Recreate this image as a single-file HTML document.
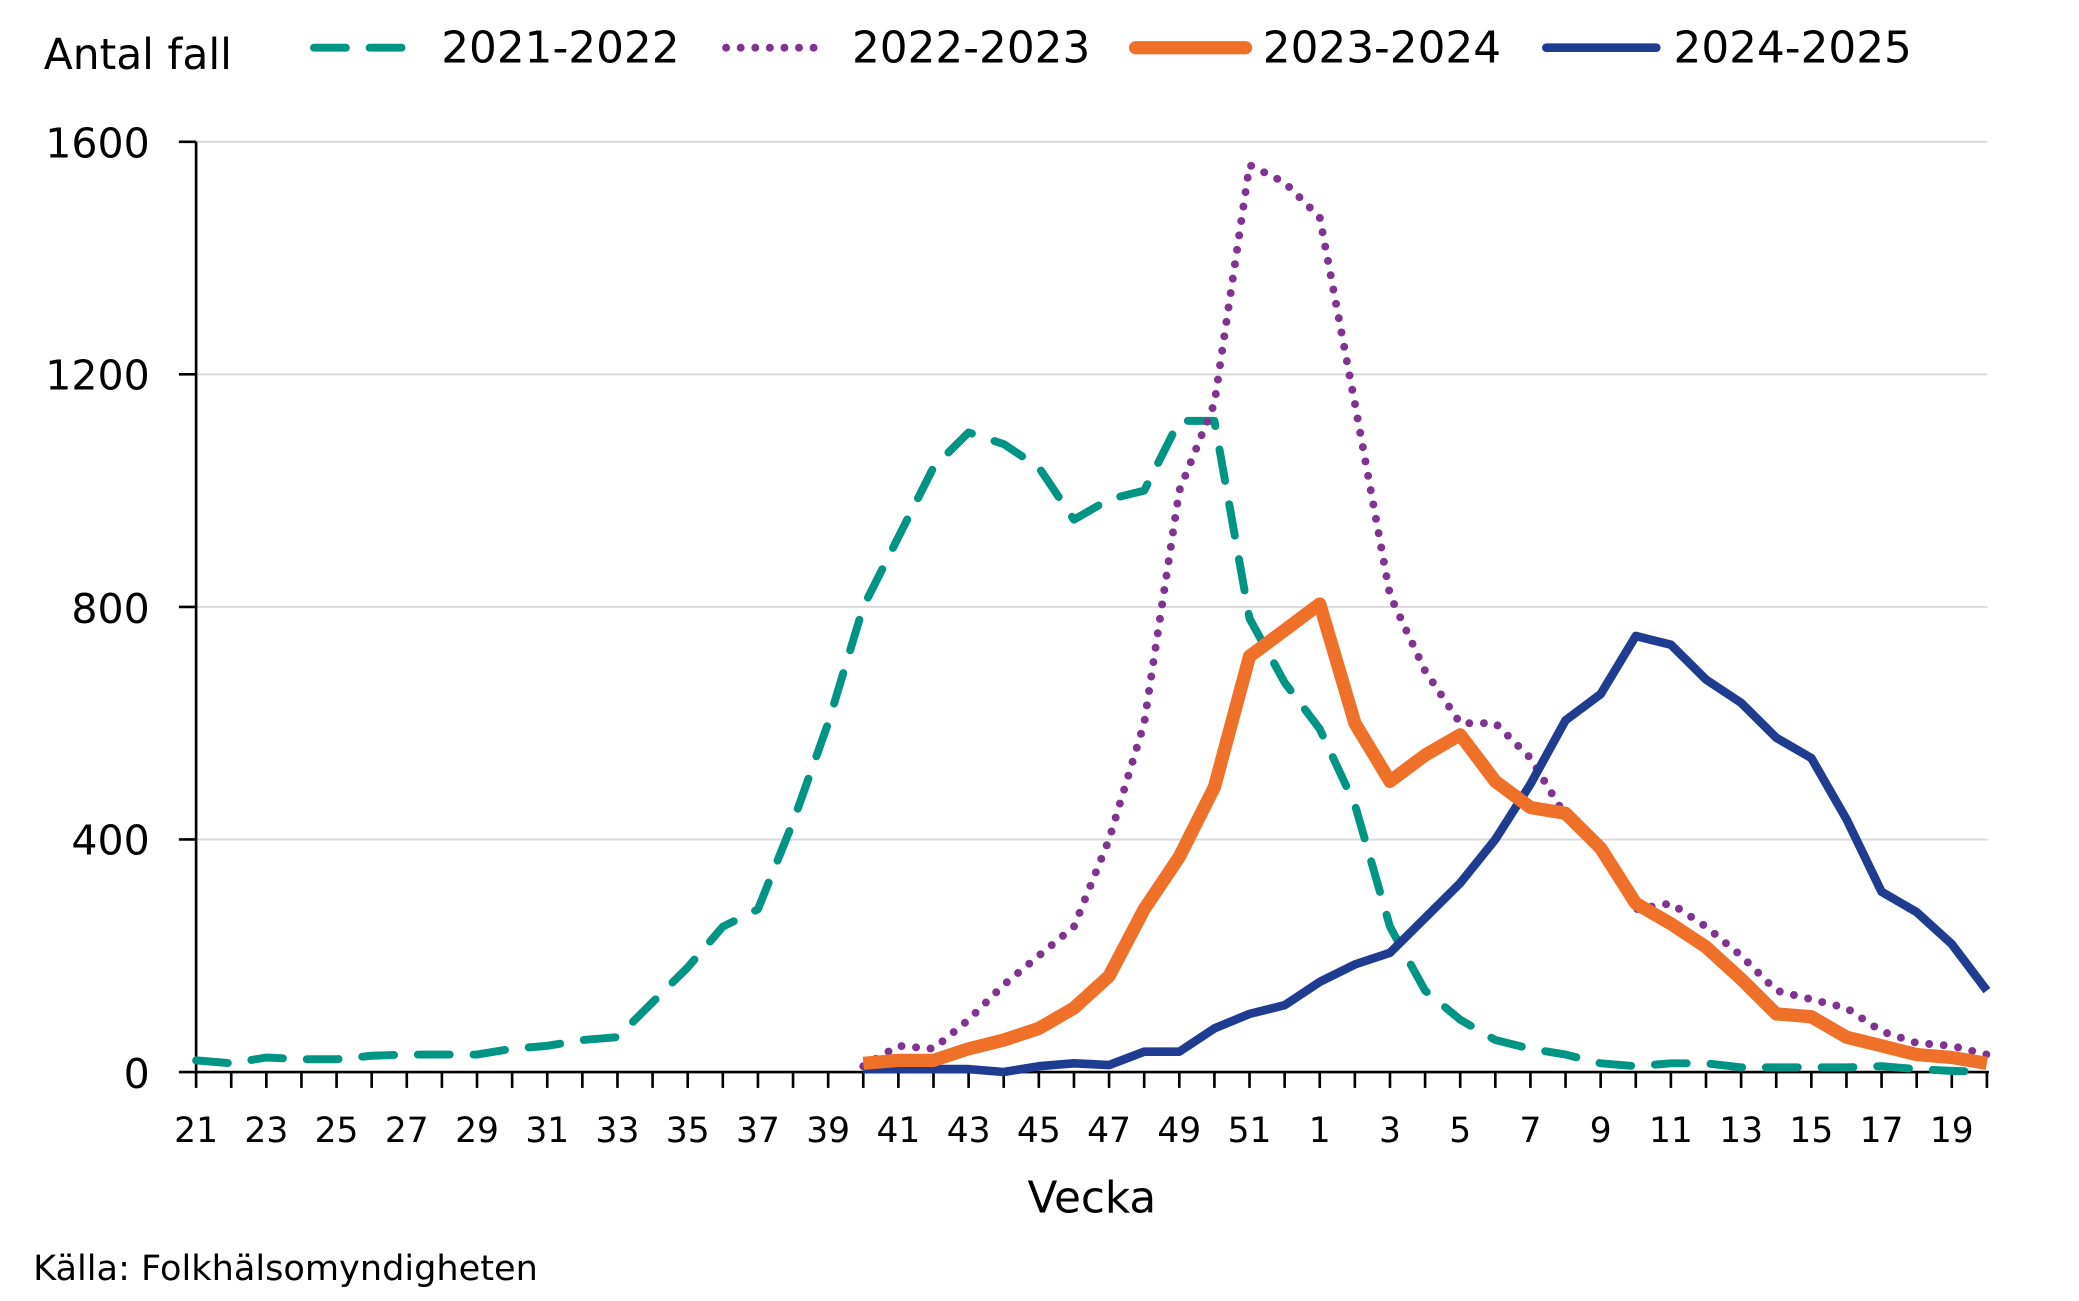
<!DOCTYPE html>
<html><head><meta charset="utf-8"><style>
html,body{margin:0;padding:0;background:#fff;}
svg{display:block}
text{font-family:"DejaVu Sans","Liberation Sans",sans-serif;fill:#000}
</style></head><body>
<svg id="c" width="2079" height="1301" viewBox="0 0 1569 981.8" preserveAspectRatio="none" xmlns="http://www.w3.org/2000/svg">
<g id="grid" stroke="#d9d9d9" stroke-width="1.5">
<line x1="148" y1="107" x2="1500" y2="107"/>
<line x1="148" y1="282.5" x2="1500" y2="282.5"/>
<line x1="148" y1="458" x2="1500" y2="458"/>
<line x1="148" y1="633.5" x2="1500" y2="633.5"/>
</g>
<g stroke="#000" stroke-width="2">
<line x1="148" y1="107" x2="148" y2="810"/>
<line x1="148" y1="809" x2="1501" y2="809"/>
<line x1="135" y1="107" x2="148" y2="107"/>
<line x1="135" y1="282.5" x2="148" y2="282.5"/>
<line x1="135" y1="458" x2="148" y2="458"/>
<line x1="135" y1="633.5" x2="148" y2="633.5"/>
<line x1="135" y1="809" x2="148" y2="809"/>
</g>
<g id="ticks" stroke="#000" stroke-width="2"></g>
<g font-size="31" text-anchor="end">
<text x="113" y="119">1600</text>
<text x="113" y="294">1200</text>
<text x="113" y="470">800</text>
<text x="113" y="645">400</text>
<text x="113" y="821">0</text>
</g>
<g id="xl" font-size="26" text-anchor="middle"></g>
<g id="series" fill="none" stroke-linejoin="round"></g>
<text x="824" y="915" font-size="33" text-anchor="middle">Vecka</text>
<text x="25" y="966" font-size="26.5">Källa: Folkhälsomyndigheten</text>
<text x="33" y="52" font-size="32">Antal fall</text>
<line x1="237" y1="36" x2="315" y2="36" stroke="#009485" stroke-width="6" stroke-dasharray="24,18" stroke-linecap="round"/>
<text x="333" y="47" font-size="33">2021-2022</text>
<line x1="548" y1="36" x2="625" y2="36" stroke="#7f3590" stroke-width="6" stroke-dasharray="0,11" stroke-linecap="round"/>
<text x="643" y="47" font-size="33">2022-2023</text>
<line x1="857" y1="36" x2="940" y2="36" stroke="#ef7029" stroke-width="10" stroke-linecap="round"/>
<text x="953" y="47" font-size="33">2023-2024</text>
<line x1="1167" y1="36" x2="1250" y2="36" stroke="#1f3c90" stroke-width="6.5" stroke-linecap="round"/>
<text x="1263" y="47" font-size="33">2024-2025</text>
</svg>
<script>
var NS="http://www.w3.org/2000/svg";
function X(i){return 148+26.5*i;}
function Y(v){return 809-v*702/1600;}
var tk=document.getElementById("ticks"),xl=document.getElementById("xl");
for(var i=0;i<52;i++){
 var wk=i<32?21+i:i-31;
 var l=document.createElementNS(NS,"line");
 l.setAttribute("x1",X(i));l.setAttribute("x2",X(i));l.setAttribute("y1",809);l.setAttribute("y2",821);
 tk.appendChild(l);
 if(i%2==0){var t=document.createElementNS(NS,"text");t.setAttribute("x",X(i));t.setAttribute("y",862);t.textContent=wk;xl.appendChild(t);}
}
var green=[20,15,25,22,22,28,30,30,30,40,45,55,60,120,180,250,280,430,600,800,920,1040,1100,1080,1040,950,985,1000,1120,1120,780,670,590,460,250,140,90,55,40,30,15,10,15,15,8,8,8,8,10,5,2,0];
var purple=[10,45,40,90,150,200,250,400,600,1000,1150,1560,1530,1470,1150,820,690,600,600,540,440,380,280,290,250,200,140,125,110,70,50,45,30];
var orange=[15,20,20,40,55,75,110,165,280,370,490,715,760,805,600,500,545,580,500,455,445,385,290,255,215,160,100,95,60,45,30,25,15];
var blue=[5,5,5,5,0,10,15,12,35,35,75,100,115,155,185,205,265,325,400,495,605,650,750,735,675,635,575,540,435,310,275,220,140];
var s=document.getElementById("series");
function add(d,off,col,w,dash,cap){
 var p=document.createElementNS(NS,"polyline"),pts=[];
 for(var i=0;i<d.length;i++)pts.push(X(i+off)+","+Y(d[i]));
 p.setAttribute("points",pts.join(" "));p.setAttribute("stroke",col);p.setAttribute("stroke-width",w);
 if(dash)p.setAttribute("stroke-dasharray",dash);
 p.setAttribute("stroke-linecap",cap);
 s.appendChild(p);
}
add(green,0,"#009485",6,"24,18","round");
add(purple,19,"#7f3590",6,"0,11","round");
add(blue,19,"#1f3c90",6.5,null,"butt");
add(orange,19,"#ef7029",10,null,"butt");
</script>
</body></html>
